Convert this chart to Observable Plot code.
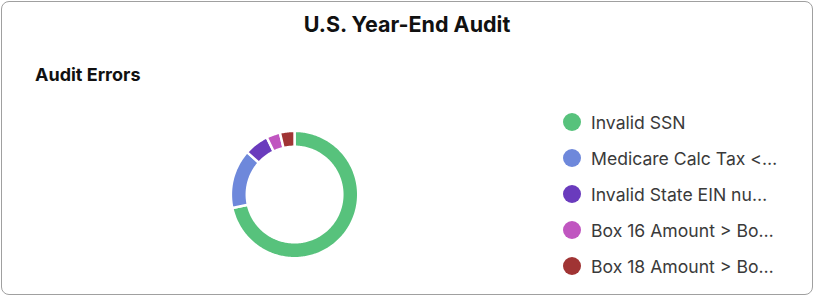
<!DOCTYPE html>
<html><head><meta charset="utf-8">
<script src="https://cdn.jsdelivr.net/npm/d3@7"></script>
<script src="https://cdn.jsdelivr.net/npm/@observablehq/plot@0.6"></script>
<style>
html,body{margin:0;padding:0;background:#fff;font-family:Inter,"Noto Sans",sans-serif;}
#card{position:absolute;left:1px;top:1px;width:810px;height:292px;border:1px solid #a0a0a0;border-radius:8px;overflow:hidden;background:#fff}
#title{position:absolute;top:9px;left:0;width:100%;text-align:center;font-weight:700;font-size:21.5px;line-height:26px;color:#111}
#sub{position:absolute;left:33px;top:62px;font-weight:700;font-size:18px;line-height:22px;color:#111}
#chart{position:absolute;left:-1px;top:-1px}
#legend{position:absolute;left:561px;top:102px}
.item{display:flex;align-items:center;height:36px;font-size:17.6px;color:#3a3a3a;white-space:nowrap}
.sw{width:18px;height:18px;border-radius:50%;margin-right:10px;flex:none}
</style></head>
<body>
<div id="card">
  <div id="chart"></div>
  <div id="title">U.S. Year-End Audit</div>
  <div id="sub">Audit Errors</div>
  <div id="legend"></div>
</div>
<script>
const categories = ["Invalid SSN", "Medicare Calc Tax <…", "Invalid State EIN nu…", "Box 16 Amount > Bo…", "Box 18 Amount > Bo…"];
const values = [71.6, 15.0, 6.2, 3.5, 3.7];
const colors = ["#57c27c", "#6e88db", "#6a3bbd", "#c056c0", "#a03434"];

const pie = d3.pie().sort(null)(values);
const inner = 48 / 64;
const pts = [];
pie.forEach((s, i) => {
  const cat = categories[i];
  const n = Math.max(4, Math.ceil((s.endAngle - s.startAngle) * 180 / Math.PI));
  for (let k = 0; k <= n; k++) {
    const a = s.startAngle + (s.endAngle - s.startAngle) * k / n;
    pts.push({cat, x: Math.sin(a), y: Math.cos(a)});
  }
  for (let k = n; k >= 0; k--) {
    const a = s.startAngle + (s.endAngle - s.startAngle) * k / n;
    pts.push({cat, x: inner * Math.sin(a), y: inner * Math.cos(a)});
  }
});

const chart = Plot.plot({
  width: 815, height: 297,
  margin: 0,
  x: {domain: [-1, 1], range: [230.5, 358.5], axis: null},
  y: {domain: [-1, 1], range: [258, 130], axis: null},
  color: {domain: categories, range: colors},
  marks: [
    Plot.line(pts, {x: "x", y: "y", z: "cat", fill: "cat", stroke: "white", strokeWidth: 2.5, curve: "linear-closed"})
  ]
});
document.getElementById("chart").appendChild(chart);

const legend = document.getElementById("legend");
categories.forEach((c, i) => {
  const row = document.createElement("div");
  row.className = "item";
  const sw = document.createElement("span");
  sw.className = "sw";
  sw.style.background = colors[i];
  const t = document.createElement("span");
  t.textContent = c;
  row.appendChild(sw); row.appendChild(t);
  legend.appendChild(row);
});
</script>
</body></html>
